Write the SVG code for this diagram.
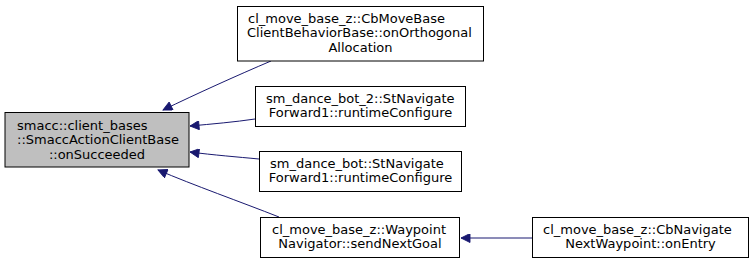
<svg xmlns="http://www.w3.org/2000/svg" width="751" height="263" viewBox="0 0 751 263">
  <style>
    .node rect { fill: #ffffff; stroke: #000000; stroke-width: 1; }
    .node.focus rect { fill: #bfbfbf; }
    .node text { font-family: "DejaVu Sans", sans-serif; font-size: 13px; fill: #000000; }
    .edge { fill: none; stroke: #191970; stroke-width: 1; }
  </style>
  <defs>
    <marker id="arrow" viewBox="0 0 10 10" refX="10" refY="5" markerWidth="12" markerHeight="9" markerUnits="userSpaceOnUse" orient="auto">
      <path d="M0,0 L10,5 L0,10 z" fill="#191970" stroke="#191970"/>
    </marker>
  </defs>
  <rect width="751" height="263" fill="#ffffff"/>

  <g id="edges">
    <path class="edge" marker-end="url(#arrow)" d="M271,61 C238,75 196,94 163,110"/>
    <path class="edge" marker-end="url(#arrow)" d="M255,119 C235,122 212,124 190,126"/>
    <path class="edge" marker-end="url(#arrow)" d="M259,159 C238,157 213,155 190,152"/>
    <path class="edge" marker-end="url(#arrow)" d="M279,217 C241,202 193,185 158,170"/>
    <path class="edge" marker-end="url(#arrow)" d="M532,238 L461,238"/>
  </g>

  <g id="node-onSucceeded" class="node focus">
    <rect x="5" y="112.5" width="184" height="54.5"/>
    <text x="17" y="129.5">smacc::client_bases</text>
    <text x="17" y="144">::SmaccActionClientBase</text>
    <text x="97" y="158.5" text-anchor="middle">::onSucceeded</text>
  </g>

  <g id="node-onOrthogonalAllocation" class="node">
    <rect x="237.5" y="6.5" width="246" height="54.5"/>
    <text x="248" y="22.5">cl_move_base_z::CbMoveBase</text>
    <text x="247" y="37">ClientBehaviorBase::onOrthogonal</text>
    <text x="360.5" y="51.5" text-anchor="middle">Allocation</text>
  </g>

  <g id="node-runtimeConfigure2" class="node">
    <rect x="255.5" y="86.5" width="210" height="40"/>
    <text x="266" y="102.5">sm_dance_bot_2::StNavigate</text>
    <text x="360.5" y="117" text-anchor="middle">Forward1::runtimeConfigure</text>
  </g>

  <g id="node-runtimeConfigure" class="node">
    <rect x="259.5" y="151.5" width="202" height="40"/>
    <text x="270" y="167.5">sm_dance_bot::StNavigate</text>
    <text x="360.5" y="182" text-anchor="middle">Forward1::runtimeConfigure</text>
  </g>

  <g id="node-sendNextGoal" class="node">
    <rect x="260.5" y="217.5" width="199" height="40"/>
    <text x="272" y="233.5">cl_move_base_z::Waypoint</text>
    <text x="360" y="248" text-anchor="middle">Navigator::sendNextGoal</text>
  </g>

  <g id="node-onEntry" class="node">
    <rect x="532.5" y="217.5" width="216" height="40"/>
    <text x="543" y="233.5">cl_move_base_z::CbNavigate</text>
    <text x="640.5" y="248" text-anchor="middle">NextWaypoint::onEntry</text>
  </g>
</svg>
